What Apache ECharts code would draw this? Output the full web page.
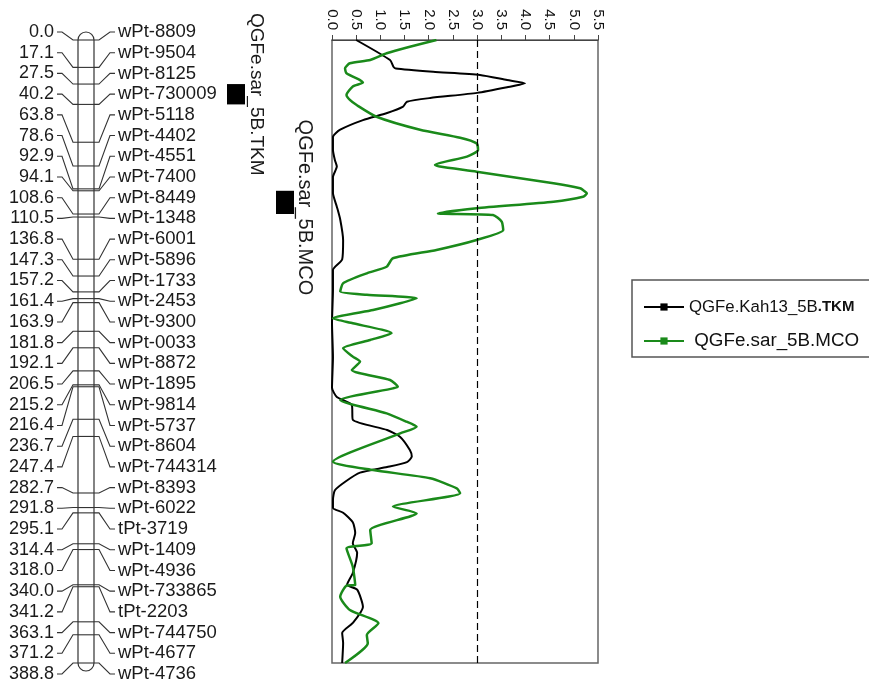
<!DOCTYPE html>
<html><head><meta charset="utf-8">
<script src="https://cdn.jsdelivr.net/npm/echarts@6/dist/echarts.min.js"></script>
<style>html,body{margin:0;padding:0;background:#fff}#c{width:869px;height:687px}</style>
</head><body><div id="c"></div>
<script>
// ---- data ----
const positions = [0.0,17.1,27.5,40.2,63.8,78.6,92.9,94.1,108.6,110.5,136.8,147.3,157.2,161.4,163.9,181.8,192.1,206.5,215.2,216.4,236.7,247.4,282.7,291.8,295.1,314.4,318.0,340.0,341.2,363.1,371.2,388.8];
const markers = ['wPt-8809','wPt-9504','wPt-8125','wPt-730009','wPt-5118','wPt-4402','wPt-4551','wPt-7400','wPt-8449','wPt-1348','wPt-6001','wPt-5896','wPt-1733','wPt-2453','wPt-9300','wPt-0033','wPt-8872','wPt-1895','wPt-9814','wPt-5737','wPt-8604','wPt-744314','wPt-8393','wPt-6022','tPt-3719','wPt-1409','wPt-4936','wPt-733865','tPt-2203','wPt-744750','wPt-4677','wPt-4736'];
const seriesNames = ['QGFe.Kah13_5B.TKM','QGFe.sar_5B.MCO'];
// [LOD, position cM]
const tkmLod = [[0.50,0],[1.20,12.5],[1.27,16.7],[1.32,17.8],[2.09,19.8],[3.06,21.8],[3.62,25],[3.99,27],[3.62,29.5],[3.0,33],[2.03,36.2],[1.55,38.5],[1.47,41.6],[1.14,45.6],[0.64,50],[0.17,56],[0.02,60.5],[0.02,68.6],[0.06,75],[0.10,79],[0.02,85.5],[0.02,95.5],[0.10,104],[0.17,112],[0.23,125],[0.21,137],[0.02,143.5],[0.02,156],[0.0,176.6],[0.02,197.8],[0.0,217],[0.10,222.8],[0.41,227.8],[0.43,237],[1.14,243.4],[1.41,247.7],[1.61,255.9],[1.65,260],[1.55,263.4],[1.14,266.5],[0.58,270],[0.28,275.5],[0.06,281],[0.02,287],[0.02,292],[0.23,295],[0.43,301],[0.48,307.7],[0.43,314],[0.52,320],[0.43,332.6],[0.31,340],[0.52,343],[0.64,353.8],[0.43,363.8],[0.21,370],[0.23,376.3],[0.21,388.8]];
const mcoLod = [[2.16,0],[1.61,4.2],[1.13,8.3],[0.79,12.5],[0.37,14.5],[0.27,17.7],[0.30,20.8],[0.58,25],[0.64,26.6],[0.43,29],[0.30,34.3],[0.37,37.4],[0.51,40.6],[0.92,47.9],[1.82,56],[2.65,61],[2.99,64.5],[3.02,68.6],[2.79,72.8],[2.13,78],[2.23,79],[2.99,82.2],[4.58,89.4],[5.13,92.5],[5.19,93.6],[5.27,95.7],[5.19,97.8],[4.58,100.9],[2.99,105],[2.19,108.2],[3.33,109.2],[3.51,113.4],[3.54,118.6],[2.99,124.8],[2.16,131],[1.26,136.2],[1.13,141.5],[0.72,145.6],[0.23,151.8],[0.17,157],[0.72,159],[1.75,161.2],[1.41,164.3],[0.85,168.5],[0.02,173.7],[0.43,176.8],[1.23,183],[0.79,187.2],[0.23,192.4],[0.43,197.6],[0.58,200.7],[0.41,206],[1.2,212.2],[1.36,216.4],[1.26,217.4],[0.17,224.7],[1.13,233],[1.54,238.2],[1.75,241.3],[1.41,245.5],[0.02,263.2],[0.85,268.4],[2.03,273.5],[2.58,279.8],[2.65,282.9],[1.26,291.2],[1.75,295.4],[0.79,305.8],[0.82,314.1],[0.30,317.2],[0.43,328.7],[0.48,340.1],[0.30,340.5],[0.17,347.4],[0.37,355.7],[0.96,364],[0.72,371.3],[0.74,376.5],[0.27,388.8]];
const threshold = 3.0;
const qtlNames = ['QGFe.sar_5B.TKM','QGFe.sar_5B.MCO'];
const qtlStart = [27.5, 94.1];
const qtlEnd = [40.2, 108.6];

// ---- chart ----
const FONT = '"Liberation Sans", Arial, sans-serif';
const chart = echarts.init(document.getElementById('c'));
const posMax = positions[positions.length - 1];

function chromOutline(params, api) {
  const cs = params.coordSys;
  const cx = cs.x + cs.width / 2;
  const top = api.coord([0, api.value(1)])[1];
  const bot = api.coord([0, api.value(2)])[1];
  return {
    type: 'rect',
    shape: { x: cx - 8, y: top - 8, width: 16, height: bot - top + 16, r: 8 },
    style: { fill: 'none', stroke: '#333', lineWidth: 1.2 }
  };
}

function markerItem(params, api) {
  const cs = params.coordSys;
  const cx = cs.x + cs.width / 2;
  const idx = api.value(2);
  const py = api.coord([0, api.value(1)])[1];
  const ly = chart.convertToPixel({ yAxisIndex: 2 }, idx);
  const ls = { stroke: '#333', lineWidth: 1.1, fill: 'none' };
  return {
    type: 'group',
    children: [
      { type: 'polyline', shape: { points: [[cx - 29, ly], [cx - 24, ly], [cx - 13, py], [cx - 8, py]] }, style: ls },
      { type: 'line', shape: { x1: cx - 8, y1: py, x2: cx + 8, y2: py }, style: ls },
      { type: 'polyline', shape: { points: [[cx + 8, py], [cx + 13, py], [cx + 24, ly], [cx + 29, ly]] }, style: ls },
      { type: 'text', style: { text: positions[idx].toFixed(1), x: cs.x, y: ly, align: 'right', verticalAlign: 'middle', font: '18px ' + FONT, fill: '#1a1a1a' } },
      { type: 'text', style: { text: markers[idx], x: cs.x + cs.width, y: ly, align: 'left', verticalAlign: 'middle', font: '18.5px ' + FONT, fill: '#1a1a1a' } }
    ]
  };
}

function qtlItem(params, api) {
  const i = api.value(0);
  const p0 = api.coord([i, api.value(1)]);
  const p1 = api.coord([i, api.value(2)]);
  return {
    type: 'group',
    children: [
      { type: 'rect', shape: { x: p0[0], y: p0[1], width: 18, height: p1[1] - p0[1] }, style: { fill: '#000' } },
      { type: 'text', x: p0[0] + 29, y: (p0[1] + p1[1]) / 2 + (i === 1 ? 5 : 0), rotation: -Math.PI / 2,
        style: { text: qtlNames[i], x: 0, y: 0, align: 'center', verticalAlign: 'middle', font: (i === 1 ? '20px ' : '19px ') + FONT, fill: '#1a1a1a' } }
    ]
  };
}

const hiddenVal = (extra) => Object.assign({ type: 'value', show: false, splitLine: { show: false } }, extra);

chart.setOption({
  animation: false,
  backgroundColor: '#fff',
  grid: [
    { left: 332, top: 40, width: 266, height: 623, show: true, borderColor: '#666', borderWidth: 1.5 },
    { left: 54, top: 40, width: 64, height: 623 },
    { left: 54, top: 32, width: 64, height: 642 },
    { left: 227, top: 40, width: 49, height: 623 }
  ],
  xAxis: [
    { type: 'value', gridIndex: 0, position: 'top', min: 0, max: 5.5, interval: 0.5,
      axisLine: { show: true, lineStyle: { color: '#444', width: 1.2 } },
      axisTick: { show: true, length: 5, lineStyle: { color: '#444' } },
      axisLabel: { rotate: -90, margin: 10, fontSize: 15, fontFamily: FONT, color: '#111', formatter: v => v.toFixed(1) },
      splitLine: { show: false } },
    hiddenVal({ gridIndex: 1, min: 0, max: 1 }),
    hiddenVal({ gridIndex: 2, min: 0, max: 1 }),
    hiddenVal({ gridIndex: 3, min: 0, max: 1 })
  ],
  yAxis: [
    hiddenVal({ gridIndex: 0, min: 0, max: posMax, inverse: true }),
    hiddenVal({ gridIndex: 1, min: 0, max: posMax, inverse: true }),
    hiddenVal({ gridIndex: 2, min: 0, max: markers.length - 1, inverse: true }),
    hiddenVal({ gridIndex: 3, min: 0, max: posMax, inverse: true })
  ],
  legend: {
    left: 632, top: 280, orient: 'vertical', data: seriesNames,
    borderColor: '#555', borderWidth: 1.5, padding: [17, 40, 6, 11],
    itemWidth: 40, itemHeight: 9, itemGap: 14,
    textStyle: { fontSize: 18, fontFamily: FONT, color: '#111', lineHeight: 20,
      rich: {
        a: { fontSize: 16.8, fontFamily: FONT, color: '#111' },
        s: { fontSize: 15, fontWeight: 'bold', fontFamily: FONT, color: '#111' },
        m: { fontSize: 18.8, fontFamily: FONT, color: '#111' }
      } },
    formatter: name => name.endsWith('.TKM')
      ? '{a|' + name.replace(/\.TKM$/, '') + '}{s|.TKM}'
      : '{m| ' + name + '}'
  },
  series: [
    { name: seriesNames[0], type: 'line', xAxisIndex: 0, yAxisIndex: 0, data: tkmLod,
      symbol: 'rect', symbolSize: 8, showSymbol: false, smooth: 0.2,
      itemStyle: { color: '#000' }, lineStyle: { color: '#000', width: 2 },
      markLine: { silent: true, symbol: 'none', label: { show: false },
        lineStyle: { color: '#000', type: [7, 4], width: 1.2 }, data: [{ xAxis: threshold }] } },
    { name: seriesNames[1], type: 'line', xAxisIndex: 0, yAxisIndex: 0, data: mcoLod,
      symbol: 'rect', symbolSize: 8, showSymbol: false, smooth: 0.2,
      itemStyle: { color: '#1a8a1a' }, lineStyle: { color: '#1a8a1a', width: 2.5 } },
    { type: 'custom', xAxisIndex: 1, yAxisIndex: 1, silent: true, renderItem: chromOutline,
      data: [[0, positions[0], posMax]] },
    { type: 'custom', xAxisIndex: 1, yAxisIndex: 1, silent: true, renderItem: markerItem,
      data: positions.map((p, i) => [0, p, i]) },
    { type: 'custom', xAxisIndex: 3, yAxisIndex: 3, silent: true, renderItem: qtlItem,
      data: qtlNames.map((n, i) => [i, qtlStart[i], qtlEnd[i]]) }
  ]
});
</script></body></html>
